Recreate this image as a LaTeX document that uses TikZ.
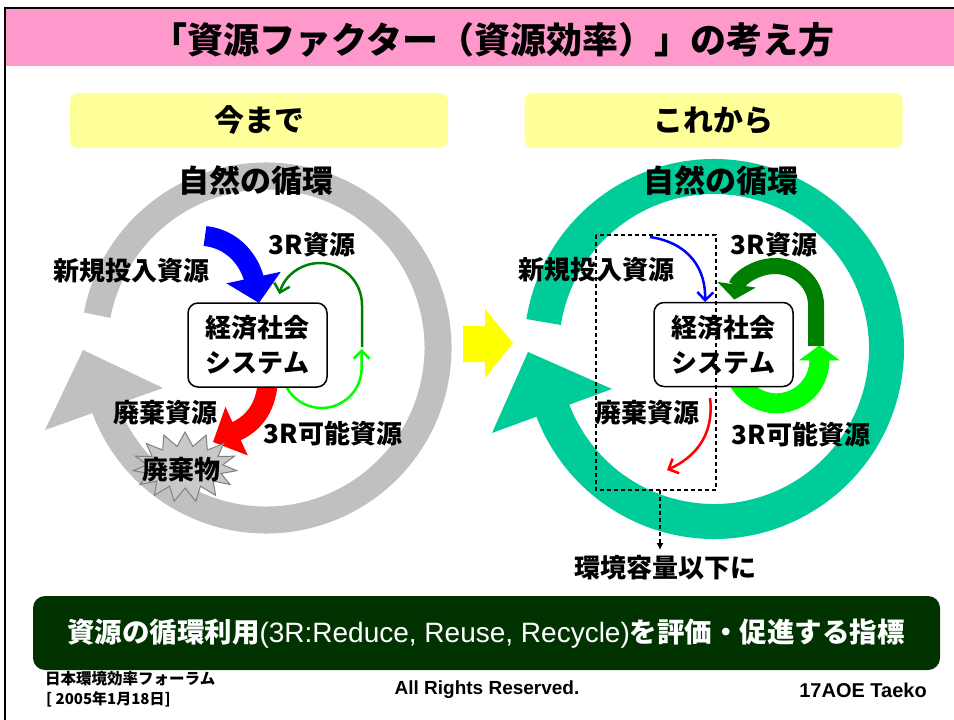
\documentclass[tikz,border=0pt]{standalone}
\usepackage{fontspec}
\setmainfont{Noto Sans CJK JP}
\newfontfamily\lib{Liberation Sans}
\usetikzlibrary{arrows.meta,shapes.symbols}
\definecolor{titlepink}{HTML}{FF99CC}
\definecolor{ybox}{HTML}{FFFF99}
\definecolor{ringgray}{HTML}{C0C0C0}
\definecolor{teal}{HTML}{00CC99}
\definecolor{yarrow}{HTML}{FFFF00}
\definecolor{pblue}{HTML}{0000FF}
\definecolor{pred}{HTML}{FF0000}
\definecolor{dkgreen}{HTML}{008000}
\definecolor{ltgreen}{HTML}{00FF00}
\definecolor{bargreen}{HTML}{003300}
\definecolor{burstfill}{HTML}{C8C8C8}
\definecolor{burstline}{HTML}{808080}
\tikzset{
  fs/.style={font=\bfseries\fontsize{#1}{#1}\selectfont},
  lab/.style={font=\bfseries\fontsize{26}{30}\selectfont},
  headbox/.style={fill=ybox, rounded corners=8pt, minimum width=378pt, minimum height=55pt, font=\bfseries\fontsize{30}{30}\selectfont},
  sysbox/.style={draw, line width=1.5pt, rounded corners=10pt, fill=white, minimum width=139pt, minimum height=84pt, align=center, font=\bfseries\fontsize{26}{35}\selectfont},
  thinarrow/.style={line width=2.5pt, -{Straight Barb[length=8pt,width=16pt]}},
}
\begin{document}
\begin{tikzpicture}[x=1pt,y=-1pt, every node/.style={inner sep=0pt}]
\useasboundingbox (0,0) rectangle (954,720);
\fill[white] (0,0) rectangle (954,720);
% title
\fill[titlepink] (5,9) rectangle (954,66);
\draw[line width=1.5pt] (954,8) -- (5,8) -- (5,720);
\node[fs=36] (title) at (493,40) {「資源ファクター（資源効率）」の考え方};
% header boxes
\node[headbox] (hl) at (259,120.5) {今まで};
\node[headbox] (hr) at (713.5,120.5) {これから};
% left ring
\coordinate (cl) at (266,348);
\draw[line width=27pt, ringgray] (cl) ++(-169:172) arc[start angle=-169, end angle=161, radius=172];
\fill[ringgray] (83,350) -- (163,388) -- (45,430) -- cycle;
% right ring
\coordinate (cr) at (714,349);
\draw[line width=35pt, teal] (cr) ++(-171:172.5) arc[start angle=-171, end angle=161, radius=172.5];
\fill[teal] (528,352) -- (612,389) -- (492,433) -- cycle;
% yellow arrow
\fill[yarrow] (463,326) -- (485,326) -- (485,309) -- (513,343) -- (485,378) -- (485,362) -- (463,362) -- cycle;
% nature labels
\node[fs=31] (natl) at (256,181) {自然の循環};
\node[fs=31] (natr) at (721,181) {自然の循環};
% left arrows
\draw[pblue, line width=20pt, -{Triangle[length=26pt,width=54pt]}] (205,236) .. controls (240,240) and (252,270) .. (259,303);
\draw[pred, line width=20pt, -{Triangle[length=26pt,width=52pt]}] (268,380) .. controls (266,412) and (250,425) .. (213,442);
\draw[dkgreen, thinarrow] (362,347) -- (362,305) arc[start angle=0, end angle=-165, radius=42];
\draw[ltgreen, thinarrow] (287,388) arc[start angle=150, end angle=0, radius=40] -- ++(0,-19);
% burst
\node[starburst, starburst points=15, starburst point height=14pt, random starburst=0, fill=burstfill, draw=burstline, line width=1pt, minimum width=104pt, minimum height=70pt] (burst) at (185,467) {};
\node[lab] (haikibutsu) at (181,470) {廃棄物};
% left box
\node[sysbox] (sysl) at (257.5,345) {経済社会\\システム};
% left labels
\node[lab] (newl) at (131,271) {新規投入資源};
\node[lab] (r3l) at (312,245) {3R資源};
\node[lab] (wastel) at (165,413) {廃棄資源};
\node[lab] (r3pl) at (333,434) {3R可能資源};
% right arrows
\draw[ltgreen, line width=20pt, -{Triangle[length=15pt,width=40pt]}] (736,375) arc[start angle=160, end angle=0, radius=43] -- ++(0,-15);
\draw[dkgreen, line width=16pt, -{Triangle[length=15pt,width=38pt]}] (816,346) -- (816,305) arc[start angle=0, end angle=-172, x radius=41, y radius=39];
\node[sysbox] (sysr) at (723.5,344.5) {経済社会\\システム};
\draw[pblue, thinarrow] (650,237) .. controls (690,243) and (706,270) .. (705,302);
\draw[pred, thinarrow] (710,398) .. controls (714,430) and (700,455) .. (667,470);
% dashed box
\draw[dashed, line width=1.2pt, dash pattern=on 4pt off 3pt] (596,235) rectangle (716,490);
\coordinate (dbot) at (660,490);
\node[lab] (env) at (665,568) {環境容量以下に};
\draw[line width=1.2pt, dash pattern=on 4pt off 3pt, -{Latex[length=7pt,width=7pt]}] (dbot) -- (660,550);
% right labels
\node[lab] (newr) at (596,270) {新規投入資源};
\node[lab] (r3r) at (774,245) {3R資源};
\node[lab] (waster) at (647,413) {廃棄資源};
\node[lab] (r3pr) at (801,435) {3R可能資源};
% bottom bar
\node[fill=bargreen, rounded corners=12pt, minimum width=907pt, minimum height=74pt] (bar) at (486.5,633) {};
\node[text=white, fs=27.5] (bartext) at (486,634) {資源の循環利用{\lib\mdseries\fontsize{28}{28}\selectfont(3R:Reduce, Reuse, Recycle)}を評価・促進する指標};
% footer
\node[fs=15.5, anchor=west] (org) at (45,679) {日本環境効率フォーラム};
\node[fs=15, anchor=west] (date) at (46,699) {[ 2005年1月18日]};
\node[font=\lib\bfseries\fontsize{19}{19}\selectfont] (rights) at (487,690) {All Rights Reserved.};
\node[font=\lib\bfseries\fontsize{20}{20}\selectfont, anchor=east] (author) at (927,690) {17AOE Taeko};
\end{tikzpicture}
\end{document}
